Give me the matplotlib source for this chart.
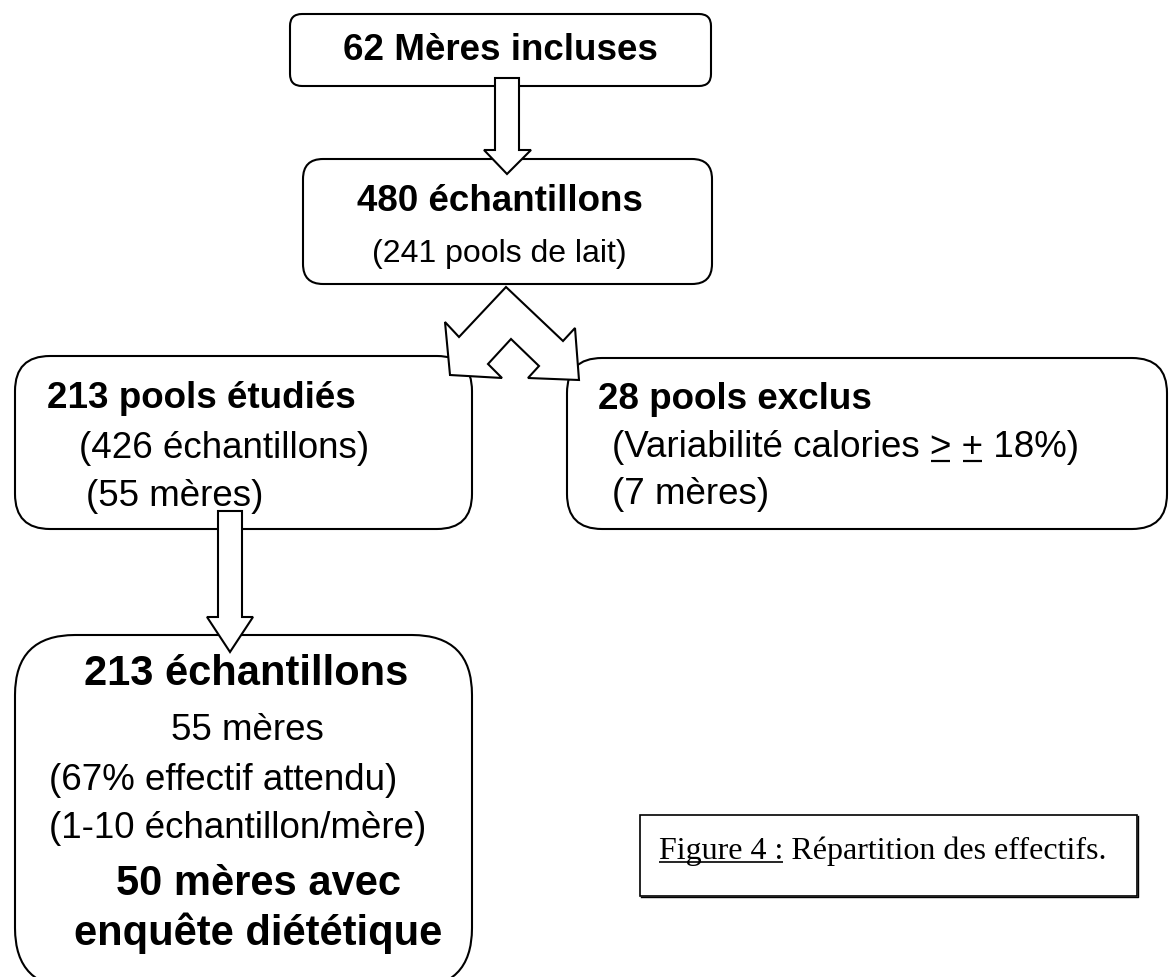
import matplotlib
matplotlib.use("Agg")
import matplotlib.pyplot as plt
from matplotlib.patches import FancyBboxPatch, Polygon, Rectangle

# ---------------- data (texts of the flow chart) ----------------
box1_lines = ["62 Mères incluses"]
box2_lines = ["480 échantillons", "(241 pools de lait)"]
box3_lines = ["213 pools étudiés", "(426 échantillons)", "(55 mères)"]
box4_lines = ["28 pools exclus", "(Variabilité calories > + 18%)", "(7 mères)"]
box5_lines = ["213 échantillons", "55 mères", "(67% effectif attendu)",
              "(1-10 échantillon/mère)", "50 mères avec", "enquête diététique"]
caption_label = "Figure 4 :"
caption_rest = " Répartition des effectifs."

# ---------------- figure in pixel coordinates ----------------
W, H = 1170, 978
fig = plt.figure(figsize=(W / 100, H / 100), dpi=100)
ax = fig.add_axes([0, 0, 1, 1])
ax.set_xlim(0, W)
ax.set_ylim(H, 0)
ax.axis("off")

SANS = ["Liberation Sans", "DejaVu Sans"]
SERIF = ["Liberation Serif", "DejaVu Serif"]
LW = 1.5


def rbox(x0, y0, x1, y1, r, lw=LW):
    p = FancyBboxPatch((x0, y0), x1 - x0, y1 - y0,
                       boxstyle=f"round,pad=0,rounding_size={r}",
                       fc="white", ec="black", lw=lw, zorder=1)
    ax.add_patch(p)


def put(x, cy, s, size, bold=False, ha="center", family=SANS):
    em = size * 100 / 72
    base = cy + 0.358 * em
    return ax.text(x, base, s, fontsize=size, family=family,
                   fontweight="bold" if bold else "normal",
                   ha=ha, va="baseline", zorder=5, color="black")


def arrow_down(xl, xr, ytop, yhead, hl, hr, ytip):
    xc = (xl + xr) / 2
    pts = [(xl, ytop), (xr, ytop), (xr, yhead), (hr, yhead), (xc, ytip),
           (hl, yhead), (xl, yhead)]
    ax.add_patch(Polygon(pts, closed=True, fc="white", ec="black",
                         lw=LW, joinstyle="miter", zorder=3))


renderer = fig.canvas.get_renderer()


def text_width(s, size, bold=False, family=SANS):
    t = ax.text(0, 0, s, fontsize=size, family=family,
                fontweight="bold" if bold else "normal")
    bb = t.get_window_extent(renderer=renderer)
    t.remove()
    return bb.width


# ---------------- boxes ----------------
rbox(290, 15, 711, 87, 12)
rbox(303, 160, 712, 285, 20)
rbox(15, 357, 472, 530, 35)
rbox(567, 359, 1167, 530, 35)
rbox(15, 636, 472, 989, 60)

# caption box (square, slight shadow on bottom/right)
ax.add_patch(Rectangle((640, 816), 497, 81, fc="white", ec="black",
                       lw=1.2, zorder=1))
ax.plot([641, 1138, 1138], [898, 898, 817], color="black", lw=1.0, zorder=1)

# ---------------- arrows ----------------
arrow_down(495, 519, 79, 151, 484, 531, 175)
arrow_down(218, 242, 512, 618, 207, 253, 653)

split = [(506, 288), (563, 342), (575, 329), (579, 381), (528, 379),
         (539, 367), (511, 340), (488, 365), (502, 379), (450, 376),
         (445, 323), (459, 338)]
ax.add_patch(Polygon(split, closed=True, fc="white", ec="black", lw=LW,
                     joinstyle="miter", zorder=3))

# ---------------- texts ----------------
HB = 26.5   # bold headings in upper boxes
HR = 26.5   # regular lines

put(500, 47, box1_lines[0], HB, bold=True)

put(500, 198, box2_lines[0], HB, bold=True)
put(499, 251, box2_lines[1], 23)

put(47, 395, box3_lines[0], HB, bold=True, ha="left")
put(79, 445, box3_lines[1], HR, ha="left")
put(86, 493, box3_lines[2], HR, ha="left")

put(598, 396, box4_lines[0], HB, bold=True, ha="left")
xv, cyv = 612, 444
put(xv, cyv, box4_lines[1], HR, ha="left")
put(612, 491, box4_lines[2], HR, ha="left")
# underline the ">" and "+" signs (>= and +/-)
basev = cyv + 0.358 * HR * 100 / 72
for sym in [">", "+"]:
    idx = box4_lines[1].index(sym)
    end = xv + text_width(box4_lines[1][:idx + 1], HR)
    start = end - text_width(sym, HR)
    ax.plot([start + 1, end - 1], [basev + 5, basev + 5], color="black",
            lw=1.6, solid_capstyle="butt", zorder=5)

BB5 = 30
put(246, 670, box5_lines[0], BB5, bold=True)
put(247, 727, box5_lines[1], HR)
put(223, 777, box5_lines[2], HR)
put(238, 825, box5_lines[3], HR)
put(258, 880, box5_lines[4], BB5, bold=True)
put(258, 930, box5_lines[5], BB5, bold=True)

# caption
CS = 23
cx0, ccy = 659, 848
put(cx0, ccy, caption_label + caption_rest, CS, ha="left", family=SERIF)
cbase = ccy + 0.331 * CS * 100 / 72
wl = text_width(caption_label, CS, family=SERIF)
ax.plot([cx0, cx0 + wl], [cbase + 4, cbase + 4], color="black", lw=1.2,
        solid_capstyle="butt", zorder=5)

fig.savefig("out.png", dpi=100, facecolor="white")
